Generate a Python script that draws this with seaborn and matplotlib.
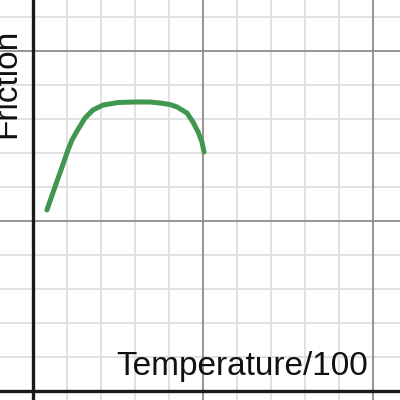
import numpy as np
import pandas as pd
import seaborn as sns
import matplotlib
matplotlib.use("Agg")
import matplotlib.pyplot as plt

# points (x = temperature/100, y = friction)
temp = [0.082, 0.129, 0.171, 0.206, 0.229, 0.259, 0.306, 0.353, 0.412, 0.500,
        0.600, 0.688, 0.747, 0.806, 0.847, 0.906, 0.941, 0.971, 0.994, 1.006]
friction = [1.065, 1.200, 1.318, 1.418, 1.476, 1.529, 1.606, 1.653, 1.682, 1.697,
            1.700, 1.700, 1.694, 1.685, 1.671, 1.635, 1.582, 1.524, 1.465, 1.406]

df = pd.DataFrame({"temp": temp, "friction": friction})

sns.set_style("white")
plt.rcParams['font.family'] = ['Liberation Sans', 'DejaVu Sans']

fig = plt.figure(figsize=(4, 4), dpi=100)
ax = fig.add_axes([0, 0, 1, 1])

xmin, xmax = -33 / 170, 367 / 170
ymin, ymax = -9 / 170, 391 / 170
ax.set_xlim(xmin, xmax)
ax.set_ylim(ymin, ymax)

# grid: minor every 0.2, major every 1
for v in np.arange(-0.2, 2.4, 0.2):
    v = round(v, 1)
    if abs(v - round(v)) < 1e-6:
        continue
    ax.axvline(v, color="#dedede", lw=1.3, zorder=0)
    ax.axhline(v, color="#dedede", lw=1.3, zorder=0)
for v in [1, 2]:
    ax.axvline(v, color="#8c8c8c", lw=1.3, zorder=1)
    ax.axhline(v, color="#8c8c8c", lw=1.3, zorder=1)
ax.axvline(0, color="#1a1a1a", lw=2.4, zorder=2)
ax.axhline(0, color="#1a1a1a", lw=2.4, zorder=2)

sns.lineplot(data=df, x="temp", y="friction", ax=ax, color="#419650",
             lw=3.6, sort=False, zorder=3, solid_capstyle="round",
             solid_joinstyle="round")

ax.text(1.97, 0.094, "Temperature/100", fontsize=24, ha="right",
        va="baseline", color="#111111")
ax.text(-0.062, 1.81, "Friction", fontsize=24, rotation=90, ha="right",
        va="center", color="#111111")

ax.set_xticks([])
ax.set_yticks([])
ax.set_xlabel("")
ax.set_ylabel("")
for s in ax.spines.values():
    s.set_visible(False)

fig.savefig("out.png", dpi=100)
